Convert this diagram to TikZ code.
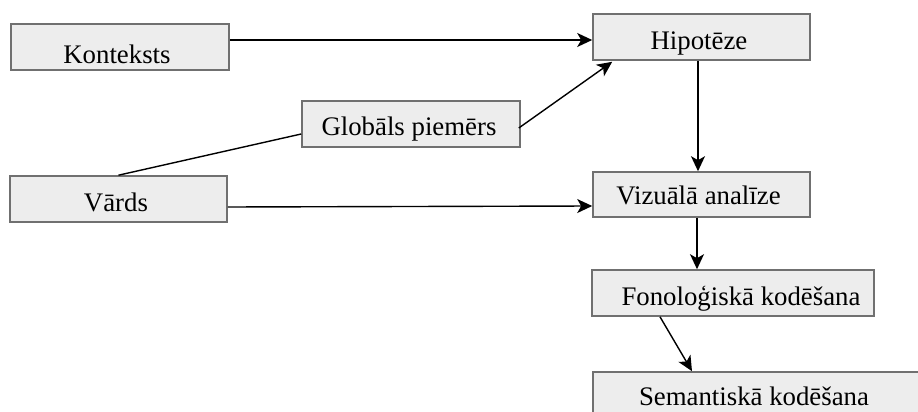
\documentclass[tikz,border=0pt]{standalone}
\usepackage{fontspec}
\setmainfont{Liberation Serif}
\usetikzlibrary{arrows.meta,calc}
\definecolor{boxfill}{HTML}{EDEDED}
\definecolor{boxline}{HTML}{707070}
\tikzset{
  box/.style={draw=boxline, fill=boxfill, line width=0.8pt, inner sep=0pt,
    minimum width=#1*0.5pt, minimum height=23pt},
  lbl/.style={anchor=base, inner sep=0pt, font=\fontsize{13.4}{15}\selectfont},
  arr/.style={line width=0.7pt, -{Stealth[length=7.5pt, width=7pt, inset=2pt]}},
  link/.style={line width=0.7pt}
}
\begin{document}
\begin{tikzpicture}[x=0.5pt, y=-0.5pt]
\useasboundingbox (0,0) rectangle (918,412);
\begin{scope}
\clip (0,0) rectangle (918,412);
% boxes
\node[box=218] (kon) at (120,47) {};
\node[box=217] (hip) at (701.5,37) {};
\node[box=218] (glo) at (411,124) {};
\node[box=217] (var) at (118.5,199) {};
\node[box=217, minimum height=22.5pt] (viz) at (701.5,194.5) {};
\node[box=282] (fon) at (733,293) {};
\node[box=332] (sem) at (759,395) {};
\end{scope}
% labels
\node[lbl] (kon-t) at (117,63) {Konteksts};
\node[lbl] (hip-t) at (699,49) {Hipotēze};
\node[lbl] (glo-t) at (409,135) {Globāls piemērs};
\node[lbl] (var-t) at (116,211) {Vārds};
\node[lbl] (viz-t) at (698.5,204) {Vizuālā analīze};
\node[lbl] (fon-t) at (741,305) {Fonoloģiskā kodēšana};
\node[lbl] (sem-t) at (754,405) {Semantiskā kodēšana};
% connectors
\draw[arr] ($(kon.east)+(0,-7)$) -- ($(hip.west)+(0,3)$);
\draw[arr] ($(glo.east)+(-2,4)$) -- ($(hip.south west)+(20,1)$);
\draw[link] (var.north) -- ($(glo.west)+(0,10)$);
\draw[arr] ($(hip.south)+(-3.5,0)$) -- ($(viz.north)+(-3.5,0)$);
\draw[arr] ($(var.east)+(0,8)$) -- ($(viz.west)+(0,11.5)$);
\draw[arr] ($(viz.south)+(-4.5,0)$) -- ($(fon.north)+(-36,0)$);
\draw[arr] ($(fon.south)+(-73,0)$) -- ($(sem.north)+(-67,0)$);
\end{tikzpicture}
\end{document}
